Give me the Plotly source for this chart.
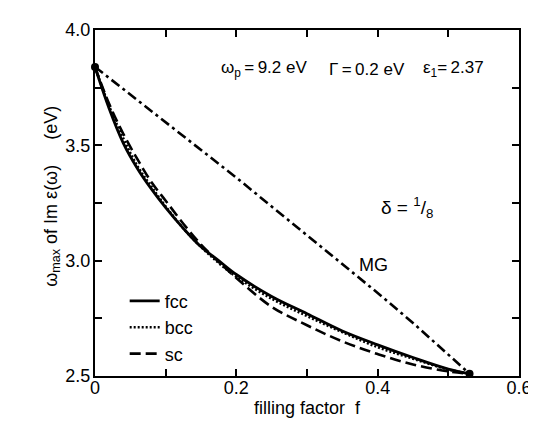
import plotly.graph_objects as go

# filling factor grid
f_vals = [0, 0.02, 0.04, 0.06, 0.08, 0.10, 0.125, 0.15, 0.175, 0.20, 0.25, 0.30, 0.35, 0.40, 0.45, 0.50, 0.53]
fcc = [3.84, 3.66, 3.51, 3.40, 3.31, 3.23, 3.14, 3.06, 3.00, 2.94, 2.845, 2.77, 2.695, 2.635, 2.58, 2.53, 2.51]
bcc = [3.84, 3.67, 3.53, 3.41, 3.32, 3.235, 3.14, 3.06, 2.99, 2.93, 2.835, 2.76, 2.69, 2.625, 2.575, 2.528, 2.51]
sc = [3.84, 3.68, 3.55, 3.44, 3.34, 3.26, 3.16, 3.07, 2.995, 2.925, 2.80, 2.72, 2.65, 2.595, 2.55, 2.52, 2.51]

mg_f = [0, 0.1, 0.2, 0.3, 0.4, 0.45, 0.5, 0.53]
mg = [3.84, 3.60, 3.36, 3.11, 2.86, 2.73, 2.59, 2.51]

end_f = [0, 0.53]
end_w = [3.84, 2.51]

x_ticks = [0, 0.1, 0.2, 0.3, 0.4, 0.5, 0.6]
x_labels = ["0", "", "0.2", "", "0.4", "", "0.6"]
y_ticks = [2.5, 2.75, 3.0, 3.25, 3.5, 3.75, 4.0]
y_labels = ["2.5", "", "3.0", "", "3.5", "", "4.0"]

FONT = "Liberation Sans, Arial, sans-serif"
TXT = dict(family=FONT, size=18, color="black")
HDR = dict(family=FONT, size=17, color="black")
TS = "\u2009"  # thin space

fig = go.Figure()
fig.add_trace(go.Scatter(x=mg_f, y=mg, mode="lines", showlegend=False,
                         line=dict(color="black", width=2.6, dash="10px,4px,3px,4px")))
fig.add_trace(go.Scatter(x=f_vals, y=fcc, mode="lines", name="fcc", line_shape="spline",
                         line=dict(color="black", width=2.8)))
fig.add_trace(go.Scatter(x=f_vals, y=bcc, mode="lines", name="bcc", line_shape="spline",
                         line=dict(color="black", width=2.6, dash="2px,2px")))
fig.add_trace(go.Scatter(x=f_vals, y=sc, mode="lines", name="sc", line_shape="spline",
                         line=dict(color="black", width=2.6, dash="11px,5px")))
fig.add_trace(go.Scatter(x=end_f, y=end_w, mode="markers", showlegend=False, cliponaxis=False,
                         marker=dict(color="black", size=8)))

axis_common = dict(showline=True, linecolor="black", linewidth=2, mirror="allticks",
                   ticks="inside", ticklen=7, tickwidth=1.5, tickcolor="black",
                   showgrid=False, zeroline=False, tickfont=TXT)

fig.update_xaxes(range=[0, 0.6], tickvals=x_ticks, ticktext=x_labels,
                 ticklabelstandoff=-6, **axis_common)
fig.update_yaxes(range=[2.5, 4.0], tickvals=y_ticks, ticktext=y_labels,
                 ticklabelstandoff=-1, **axis_common)

# axis titles
fig.add_annotation(x=0.5, y=-0.092, xref="paper", yref="paper", showarrow=False,
                   yanchor="middle", text="filling factor  f", font=TXT)
fig.add_annotation(x=-0.134, y=0.52, xref="paper", yref="paper", showarrow=False,
                   textangle=-90, text="ω<sub>max</sub> of Im ε(ω)     (eV)", font=TXT)

# parameter texts
fig.add_annotation(x=0.176, y=3.83, xref="x", yref="y", xanchor="left", showarrow=False,
                   text=f"ω<sub>p</sub>{TS}={TS}9.2 eV", font=HDR)
fig.add_annotation(x=0.328, y=3.83, xref="x", yref="y", xanchor="left", showarrow=False,
                   text=f"Γ{TS}={TS}0.2 eV", font=HDR)
fig.add_annotation(x=0.462, y=3.83, xref="x", yref="y", xanchor="left", showarrow=False,
                   text=f"ε<sub>1</sub>={TS}2.37", font=HDR)
fig.add_annotation(x=0.442, y=3.23, xref="x", yref="y", showarrow=False,
                   text="δ = <sup>1</sup>/<sub>8</sub>", font=dict(family=FONT, size=19, color="black"))
fig.add_annotation(x=0.394, y=2.98, xref="x", yref="y", showarrow=False,
                   text="MG", font=TXT)

fig.update_layout(
    width=536, height=423,
    margin=dict(l=87, r=24, t=17, b=55),
    paper_bgcolor="white", plot_bgcolor="white",
    legend=dict(x=0.07, y=0.27, xanchor="left", yanchor="top", bgcolor="rgba(0,0,0,0)",
                font=TXT, tracegroupgap=0, itemwidth=30),
)

fig.write_html("out.html")
